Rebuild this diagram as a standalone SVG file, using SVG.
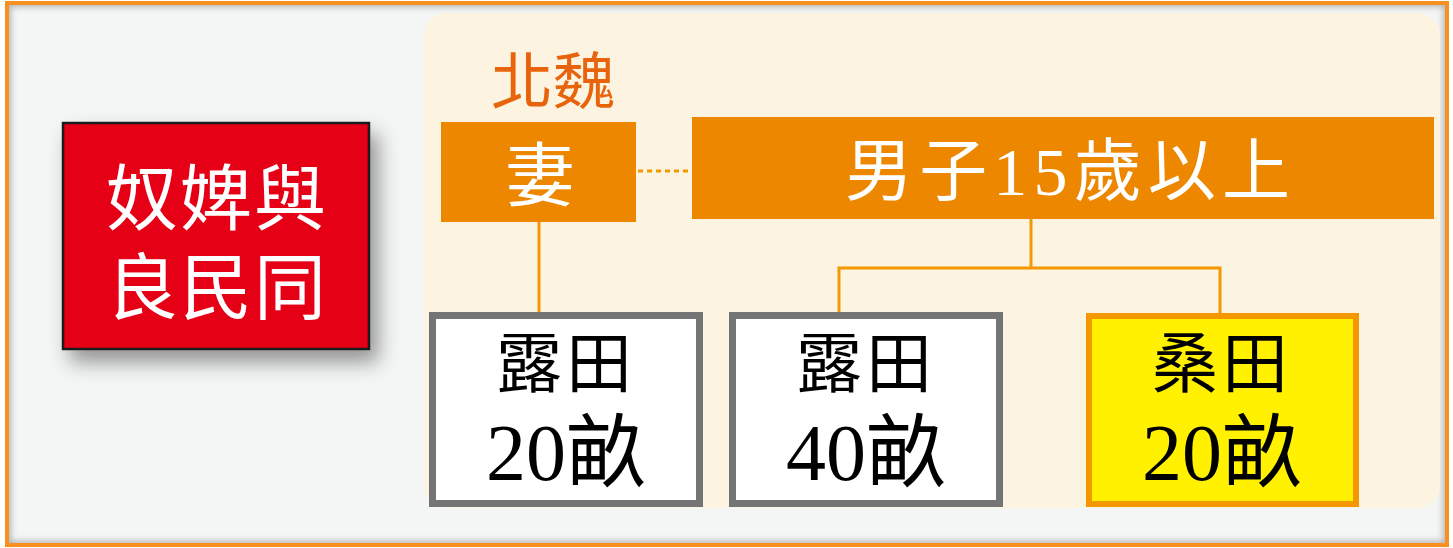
<svg xmlns="http://www.w3.org/2000/svg" width="1453" height="548" viewBox="0 0 1453 548">
<style>
.cjk{font-family:"Liberation Serif","Noto Sans CJK TC","Noto Sans CJK SC",serif;}
.wt{fill:#ffffff;}
.bk{fill:#000000;}
.conn{stroke:#F39800;stroke-width:3;fill:none;}
.obox{fill:#EE8700;}
.gbox{fill:#ffffff;stroke:#747474;stroke-width:7;}
</style>
<defs>
<filter id="drop" x="-20%" y="-20%" width="150%" height="160%">
<feDropShadow dx="8" dy="12" stdDeviation="10" flood-color="#000" flood-opacity="0.4"/>
</filter>
<filter id="blur" x="-5%" y="-5%" width="110%" height="110%">
<feGaussianBlur stdDeviation="3"/>
</filter>
<clipPath id="inner"><rect x="9" y="5" width="1436" height="538"/></clipPath>
</defs>
<g id="frame">
<rect x="7" y="3" width="1440" height="542" fill="#F4F6F5"/>
<g clip-path="url(#inner)">
<rect x="4" y="0" width="1446" height="548" fill="none" stroke="#9a9a9a" stroke-width="14" filter="url(#blur)" opacity="0.7"/>
</g>
<rect x="7" y="3" width="1440" height="542" fill="none" stroke="#F7901E" stroke-width="4"/>
</g>
<g id="panel">
<rect x="424" y="13" width="1016" height="495" rx="22" ry="22" fill="#FDF3E1"/>
</g>
<g id="connectors">
<line class="conn" x1="638" y1="171" x2="692" y2="171" stroke-dasharray="5,4" stroke-width="5"/>
<line class="conn" x1="539" y1="222" x2="539" y2="313"/>
<polyline class="conn" points="1031,219 1031,268"/>
<polyline class="conn" points="839,313 839,268 1220,268 1220,316"/>
</g>
<g id="slaves">
<rect x="63" y="123" width="306" height="226" fill="#E60012" stroke="#1a1a1a" stroke-width="2.5" filter="url(#drop)"/>
<text class="cjk wt" x="217" y="224" font-size="72" text-anchor="middle" letter-spacing="2">奴婢與</text>
<text class="cjk wt" x="217" y="313" font-size="72" text-anchor="middle" letter-spacing="2">良民同</text>
</g>
<g id="beiwei">
<text class="cjk" x="491" y="104" font-size="62" fill="#E8640C">北魏</text>
</g>
<g id="wife">
<rect class="obox" x="441" y="122" width="195" height="100"/>
<text class="cjk wt" x="540" y="201" font-size="70" text-anchor="middle">妻</text>
</g>
<g id="man">
<rect class="obox" x="692" y="117" width="742" height="102"/>
<text class="cjk wt" x="845" y="195" font-size="68" textLength="445" lengthAdjust="spacing">男子15歲以上</text>
</g>
<g id="field1">
<rect class="gbox" x="432.5" y="315.5" width="267" height="188"/>
<text class="cjk bk" x="566" y="387" font-size="66" text-anchor="middle" letter-spacing="4">露田</text>
<text class="cjk bk" x="566" y="480" font-size="80" text-anchor="middle">20畝</text>
</g>
<g id="field2">
<rect class="gbox" x="732.5" y="315.5" width="267" height="188"/>
<text class="cjk bk" x="866" y="387" font-size="66" text-anchor="middle" letter-spacing="4">露田</text>
<text class="cjk bk" x="866" y="480" font-size="80" text-anchor="middle">40畝</text>
</g>
<g id="field3">
<rect x="1089" y="316" width="267" height="188" fill="#FFF100" stroke="#F39800" stroke-width="6"/>
<text class="cjk bk" x="1222" y="387" font-size="66" text-anchor="middle" letter-spacing="4">桑田</text>
<text class="cjk bk" x="1222" y="480" font-size="80" text-anchor="middle">20畝</text>
</g>
</svg>
